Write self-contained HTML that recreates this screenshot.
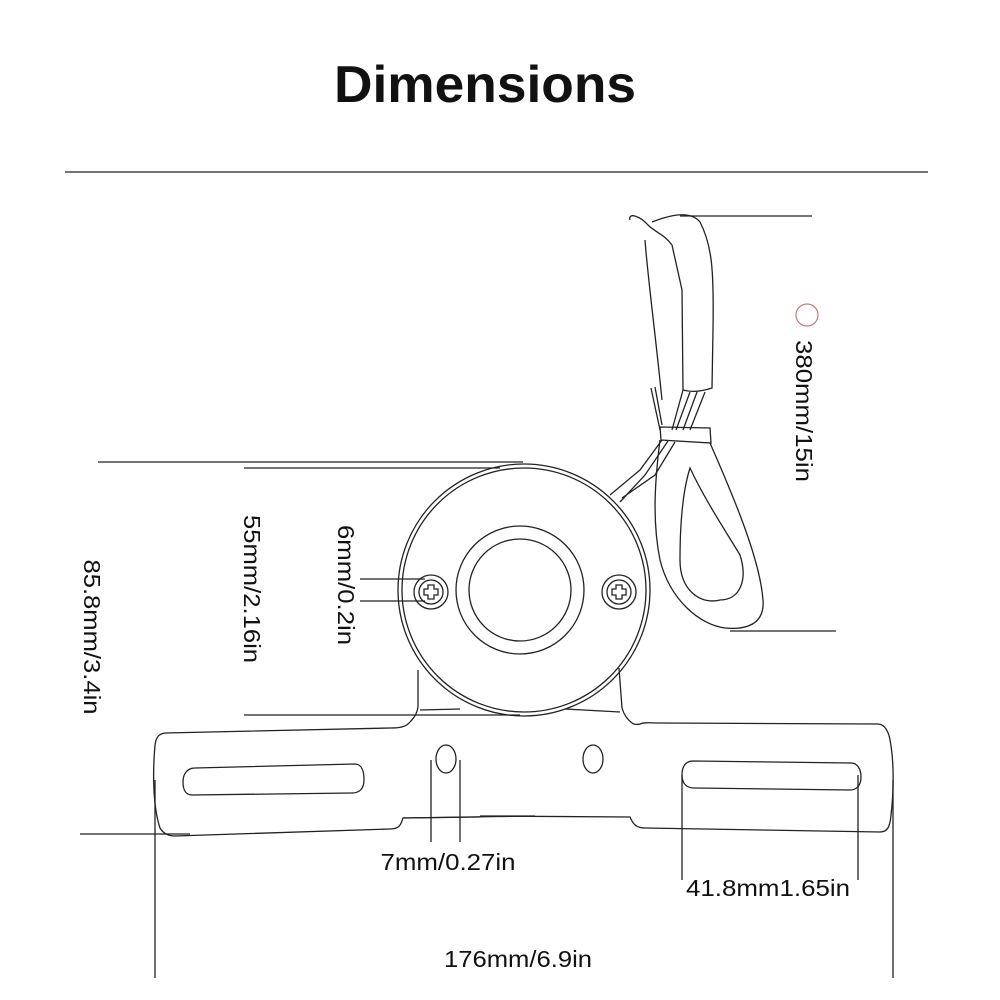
<!DOCTYPE html>
<html><head><meta charset="utf-8"><style>
html,body{margin:0;padding:0;background:#fff;}
svg{display:block;}
text{font-family:"Liberation Sans",sans-serif;fill:#111;}
</style></head><body>
<svg width="1000" height="1000" viewBox="0 0 1000 1000" xmlns="http://www.w3.org/2000/svg">
<text x="485" y="102" font-size="52" font-weight="bold" text-anchor="middle" textLength="302" lengthAdjust="spacingAndGlyphs">Dimensions</text>
<line x1="65" y1="172" x2="928" y2="172" stroke="#222" stroke-width="1.3"/>

<g fill="none" stroke="#222" stroke-width="1.3">
<line x1="98" y1="462" x2="523" y2="462"/>
<line x1="244" y1="468" x2="500" y2="468"/>
<line x1="244" y1="715" x2="520" y2="715"/>
<line x1="680" y1="216" x2="812" y2="216"/>
<line x1="730" y1="631" x2="836" y2="631"/>
<line x1="80" y1="834" x2="190" y2="834"/>
<line x1="360" y1="579" x2="425" y2="579"/>
<line x1="360" y1="601" x2="425" y2="601"/>
<line x1="431" y1="760" x2="431" y2="842"/>
<line x1="460" y1="760" x2="460" y2="842"/>
<line x1="682" y1="775" x2="682" y2="880"/>
<line x1="858" y1="775" x2="858" y2="880"/>
<line x1="155" y1="780" x2="155" y2="978"/>
<line x1="893" y1="780" x2="893" y2="978"/>

<path d="M630 220 C628 212 640 216 648 225 C655 232 665 235 672 245 L682 290 L683 390"/>
<path d="M652 222 C670 215 690 210 700 222 C712 245 714 270 713 330 L712 388 C700 392 690 392 683 390"/>
<path d="M645 240 C648 280 655 330 662 400"/>
<path d="M683 390 L672 430 M690 392 L676 430 M697 392 L683 430 M705 392 L690 430"/>
<path d="M660 427 L710 428 L711 443 L661 440 Z"/>
<path d="M651 388 L660 430 M655 387 L662 425"/>
<path d="M662 440 L640 470 L610 495 M668 441 L645 475 L620 502 M675 442 L655 475 L622 498"/>
<path d="M710 443 C735 500 760 560 763 600 C765 625 745 630 725 628 C700 625 670 600 660 560 C652 520 655 480 660 440"/>
<path d="M690 468 C705 500 725 530 740 555 C748 580 740 600 720 600 C700 605 680 590 680 560 C680 520 683 490 690 468 Z"/>

<circle cx="524" cy="590" r="126"/>
<circle cx="524" cy="590" r="122"/>
<circle cx="520" cy="590" r="64"/>
<circle cx="520" cy="590" r="51"/>
<circle cx="431" cy="592" r="17"/>
<circle cx="431" cy="592" r="12"/>
<circle cx="619" cy="592" r="17"/>
<circle cx="619" cy="592" r="12"/>
<path d="M428 585 h6 v4 h4 v6 h-4 v4 h-6 v-4 h-4 v-6 h4 z"/>
<path d="M616 585 h6 v4 h4 v6 h-4 v4 h-6 v-4 h-4 v-6 h4 z"/>

<path d="M418 670 L418 705 C418 712 414 718 410 722"/>
<path d="M619 668 L622 708 C624 715 628 720 632 723"/>
<path d="M420 710 L460 709 M565 709 L620 712"/>

<path d="M410 722 C406 727 400 728 390 728 L165 733 C158 734 156 738 155 745 C152 780 154 810 160 828 C163 833 168 836 175 836 L390 829 C400 829 401 824 403 818 L535 816 L480 816 L630 817 C633 824 636 828 645 828 L880 832 C888 832 890 826 891 815 C894 790 894 760 890 740 C889 733 885 724 878 724 L660 723 C650 723 645 722 640 724 C636 725 633 724 632 723"/>
<path d="M403 818 L480 817"/>
<path d="M195 768 L355 764 C362 764 364 772 364 780 C364 788 360 793 352 793 L192 795 C186 795 183 790 183 782 C183 774 187 768 195 768 Z"/>
<path d="M693 761 L851 763 C858 763 861 770 861 777 C861 785 857 790 850 790 L694 788 C686 788 682 783 682 775 C682 766 686 761 693 761 Z"/>
<ellipse cx="446" cy="759" rx="10" ry="14"/>
<ellipse cx="593" cy="759" rx="10" ry="14"/>
</g>

<circle cx="807" cy="315" r="11" fill="none" stroke="#c77" stroke-width="1.2"/>

<text font-size="23" text-anchor="middle" textLength="148" lengthAdjust="spacingAndGlyphs" transform="translate(244 589) rotate(90)">55mm/2.16in</text>
<text font-size="23" text-anchor="middle" textLength="120" lengthAdjust="spacingAndGlyphs" transform="translate(338 585) rotate(90)">6mm/0.2in</text>
<text font-size="23" text-anchor="middle" textLength="155" lengthAdjust="spacingAndGlyphs" transform="translate(84 637) rotate(90)">85.8mm/3.4in</text>
<text font-size="23" text-anchor="middle" textLength="142" lengthAdjust="spacingAndGlyphs" transform="translate(796 411) rotate(90)">380mm/15in</text>
<text x="448" y="870" font-size="23" text-anchor="middle" textLength="135" lengthAdjust="spacingAndGlyphs">7mm/0.27in</text>
<text x="768" y="896" font-size="23" text-anchor="middle" textLength="164" lengthAdjust="spacingAndGlyphs">41.8mm1.65in</text>
<text x="518" y="967" font-size="23" text-anchor="middle" textLength="148" lengthAdjust="spacingAndGlyphs">176mm/6.9in</text>
</svg>
</body></html>
